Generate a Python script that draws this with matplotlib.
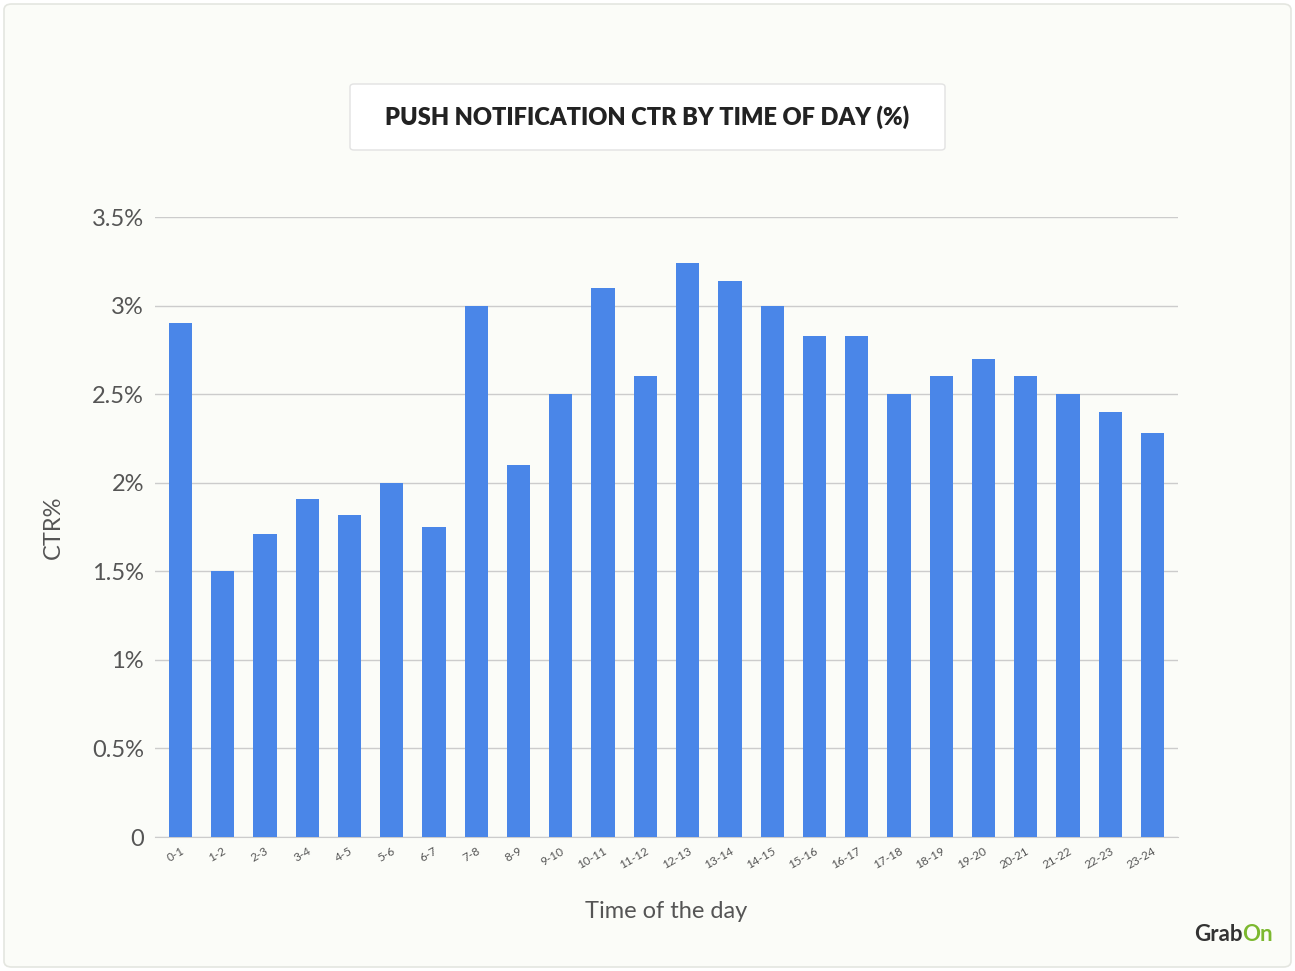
import matplotlib.pyplot as plt
from matplotlib.patches import FancyBboxPatch

plt.rcParams['font.family'] = ['Lato', 'DejaVu Sans']

labels = ["0-1","1-2","2-3","3-4","4-5","5-6","6-7","7-8","8-9","9-10","10-11","11-12",
          "12-13","13-14","14-15","15-16","16-17","17-18","18-19","19-20","20-21","21-22","22-23","23-24"]
ctr = [2.90,1.50,1.71,1.91,1.82,2.00,1.75,3.00,2.10,2.50,3.10,2.60,
       3.24,3.14,3.00,2.83,2.83,2.50,2.60,2.70,2.60,2.50,2.40,2.28]
yticks = [0,0.5,1,1.5,2,2.5,3,3.5]
ytick_labels = ["0","0.5%","1%","1.5%","2%","2.5%","3%","3.5%"]

W, H = 1295, 971
fig = plt.figure(figsize=(W/100, H/100), dpi=100, facecolor="white")
bg = FancyBboxPatch((4/W, 4/H), 1-8/W, 1-8/H, boxstyle="round,pad=0,rounding_size=0.006",
                    transform=fig.transFigure, facecolor="#fbfcf8", edgecolor="#e4e6e0", lw=1.2, zorder=-10)
fig.patches.append(bg)
ax = fig.add_axes([155/W, 1-837/H, (1178-155)/W, (837-217)/H])
ax.set_facecolor("none")
x = range(len(labels))
ax.bar(x, ctr, width=0.55, color="#4a86e8", zorder=3)
ax.set_ylim(0, 3.5)
ax.set_xlim(-0.6, len(labels)-0.4)
ax.set_yticks(yticks)
ax.set_yticklabels(ytick_labels, fontsize=17, color="#555555")
ax.set_xticks(list(x))
ax.set_xticklabels(labels, rotation=30, fontsize=8.5, color="#555555", ha="right", rotation_mode="anchor")
ax.grid(axis="y", color="#cccccc", lw=1, zorder=0)
for s in ["top","right","left"]:
    ax.spines[s].set_visible(False)
ax.spines["bottom"].set_color("#cccccc")
ax.tick_params(length=0, pad=8)
ax.tick_params(axis="x", pad=6)
ax.set_ylabel("CTR%", fontsize=17, color="#555555", labelpad=20)
ax.set_xlabel("Time of the day", fontsize=17, color="#555555", labelpad=22)

fig.patches.append(FancyBboxPatch((350/W, 1-150/H), 595/W, 66/H, boxstyle="round,pad=0,rounding_size=0.003",
                                  transform=fig.transFigure, facecolor="white", edgecolor="#e2e2e2", lw=1, zorder=-5))
fig.text(647/W, 1-117/H, "PUSH NOTIFICATION CTR BY TIME OF DAY (%)", ha="center", va="center",
         fontsize=17, fontweight="heavy", color="#222222")
tg = fig.text(1194/W, 1-934/H, "Grab", ha="left", va="center", fontsize=16, fontweight="bold", color="#333333")
fig.text(0, 0, "On", ha="left", va="center", fontsize=16, fontweight="bold", color="#7cb82f",
         transform=None) if False else ax.annotate("On", xy=(1, 0.5), xycoords=tg, ha="left", va="center",
         fontsize=16, fontweight="bold", color="#7cb82f", annotation_clip=False)
fig.savefig("out.png", dpi=100, facecolor="white")
